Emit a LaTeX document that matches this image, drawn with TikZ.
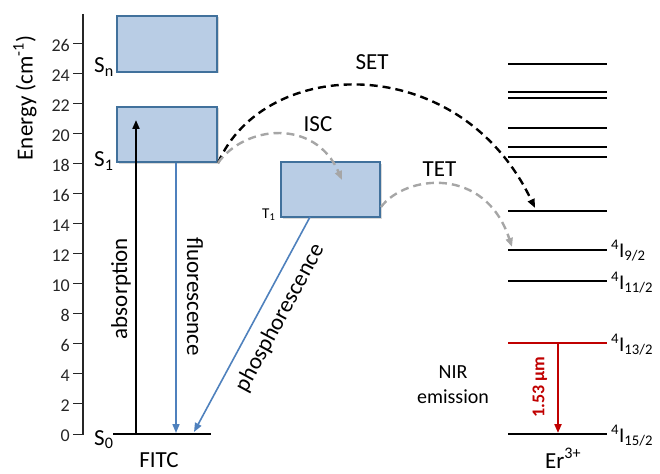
\documentclass[tikz,border=0pt]{standalone}
\usepackage{fontspec}
\setmainfont{Carlito}
\usetikzlibrary{arrows.meta,shadows}
\definecolor{boxfill}{HTML}{B9CDE5}
\definecolor{boxline}{HTML}{41719C}
\definecolor{bluearr}{HTML}{4F81BD}
\definecolor{grayarr}{HTML}{A6A6A6}
\definecolor{redarr}{HTML}{C00000}
\definecolor{axiscol}{HTML}{262626}
\begin{document}
\begin{tikzpicture}[x=1pt,y=-1pt,
  statebox/.style={draw=boxline, fill=boxfill, line width=2pt, inner sep=0pt,
    drop shadow={shadow xshift=1.5pt, shadow yshift=-1.5pt, opacity=0.3}},
  axisline/.style={draw=axiscol, line width=2pt},
  tickline/.style={draw=axiscol, line width=1pt},
  ticklbl/.style={font=\fontsize{18}{20}\selectfont, text=axiscol, inner sep=0pt, anchor=east},
  lbl/.style={font=\fontsize{23}{26}\selectfont, inner sep=0pt},
  smalllbl/.style={font=\fontsize{15}{17}\selectfont, inner sep=0pt},
  erlbl/.style={font=\fontsize{21}{24}\selectfont, inner sep=0pt, anchor=base west},
  level/.style={draw=black, line width=2pt},
  tip/.style={-{Triangle[length=9pt,width=7pt]}},
  absarrow/.style={tip, draw=black, line width=2pt},
  bluearrow/.style={tip, draw=bluearr, line width=1.6pt},
  setarrow/.style={tip, draw=black, line width=2.4pt, dash pattern=on 8pt off 5pt},
  grayarrow/.style={tip, draw=grayarr, line width=2.4pt, dash pattern=on 8pt off 5pt},
  redarrow/.style={tip, draw=redarr, line width=2pt}
  ]
\useasboundingbox (0,0) rectangle (660,473);

% energy axis
\coordinate (axTop) at (83,14);
\coordinate (axBot) at (83,435);
\draw[axisline] (axTop) -- (axBot);
\foreach \v in {0,2,...,26} {
  \coordinate (tk\v) at (83,{434-15.03*\v});
  \coordinate (tl\v) at (73,{434-15.03*\v});
  \draw[tickline] (tl\v) -- (tk\v);
  \node[ticklbl] (t\v) at (70,{436-15.03*\v}) {\v};
}
\node[lbl, rotate=90] (elabel) at (25,98) {Energy (cm\textsuperscript{-1})};

% FITC states
\node[statebox, minimum width=100pt, minimum height=56pt] (Sn) at (167,44) {};
\node[statebox, minimum width=100pt, minimum height=55pt] (S1) at (167,134.5) {};
\node[statebox, minimum width=99pt, minimum height=55pt] (T1) at (330.5,189.5) {};
\coordinate (S0a) at (113,434);
\coordinate (S0b) at (211,434);
\draw[level, line width=2.5pt] (S0a) -- (S0b);

\node[lbl, anchor=base west] (Snl) at (94,73) {S\textsubscript{n}};
\node[lbl, anchor=base west] (S1l) at (94,167) {S\textsubscript{1}};
\node[lbl, anchor=base west] (S0l) at (94,445) {S\textsubscript{0}};
\node[smalllbl, anchor=base west] (T1l) at (262,218) {T\textsubscript{1}};
\node[lbl] (fitc) at (159,460) {FITC};

% absorption / fluorescence / phosphorescence
\coordinate (absA) at (136,434);
\coordinate (absB) at (136,120);
\draw[absarrow] (absA) -- (absB);
\node[lbl, rotate=90, anchor=base] (absl) at (127,288.5) {absorption};
\coordinate (fluA) at (176,163);
\coordinate (fluB) at (176,433);
\draw[bluearrow] (fluA) -- (fluB);
\node[lbl, rotate=-90, anchor=base] (flul) at (187,296.5) {fluorescence};
\coordinate (phoA) at (310,217);
\coordinate (phoB) at (194,432);
\draw[bluearrow] (phoA) -- (phoB);
\node[lbl, rotate=61.6] (phol) at (280,318) {phosphorescence};

% Er levels
\foreach \i/\y in {1/64,2/92,3/98,4/128,5/147,6/157,7/211,8/250,9/281,11/434} {
  \coordinate (L\i a) at (508,\y);
  \coordinate (L\i b) at (607,\y);
  \draw[level] (L\i a) -- (L\i b);
}
\coordinate (L10a) at (508,343);
\coordinate (L10b) at (607,343);
\draw[level, draw=redarr] (L10a) -- (L10b);
\node[erlbl] (l92) at (611,257) {\textsuperscript{4}I\textsubscript{9/2}};
\node[erlbl] (l112) at (611,289) {\textsuperscript{4}I\textsubscript{11/2}};
\node[erlbl] (l132) at (611,351) {\textsuperscript{4}I\textsubscript{13/2}};
\node[erlbl] (l152) at (611,442) {\textsuperscript{4}I\textsubscript{15/2}};
\node[lbl, anchor=base west] (er) at (545,468) {Er\textsuperscript{3+}};

% NIR emission
\coordinate (nirA) at (558,343);
\coordinate (nirB) at (558,433);
\draw[redarrow] (nirA) -- (nirB);
\node[font=\bfseries\fontsize{18}{20}\selectfont, text=redarr, rotate=90, inner sep=0pt] (nirl) at (540,387) {1.53 µm};
\node[font=\fontsize{20}{25}\selectfont, align=center, inner sep=0pt] (nir) at (453,385) {NIR\\emission};

% energy transfer arrows
\coordinate (setEnd) at (535,208);
\coordinate (iscEnd) at (342,180);
\coordinate (tetStart) at (381,207);
\coordinate (tetEnd) at (512,247);
\draw[setarrow] (S1.south east) .. controls (265,55) and (460,50) .. (setEnd);
\draw[grayarrow] (S1.south east) .. controls (245,125) and (315,118) .. (iscEnd);
\draw[grayarrow] (tetStart) .. controls (405,175) and (485,165) .. (tetEnd);
\node[lbl] (setl) at (372,62) {SET};
\node[lbl] (iscl) at (318,124.5) {ISC};
\node[lbl] (tetl) at (439.5,169.5) {TET};
\end{tikzpicture}
\end{document}
